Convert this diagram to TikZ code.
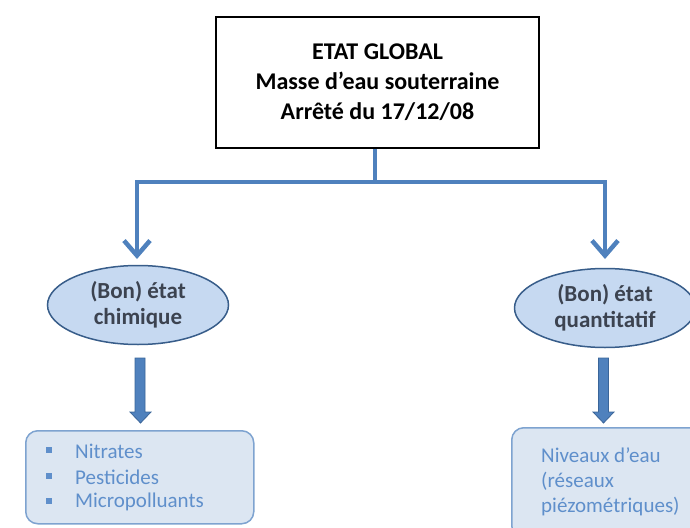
\documentclass[tikz,border=0pt]{standalone}
\usepackage{fontspec}
\setmainfont{Carlito}
\usetikzlibrary{arrows.meta,calc,shapes.geometric}
\definecolor{conn}{HTML}{4F81BD}
\definecolor{blkfill}{HTML}{4F81BD}
\definecolor{blkline}{HTML}{3A6599}
\definecolor{ellfill}{HTML}{C6D9F1}
\definecolor{elldraw}{HTML}{385D8A}
\definecolor{elltext}{HTML}{3C4350}
\definecolor{boxfill}{HTML}{DCE6F2}
\definecolor{boxdraw}{HTML}{7EA3D0}
\definecolor{boxtext}{HTML}{5F8FCB}
\tikzset{
  topbox/.style={draw=black, line width=2pt, fill=white, minimum width=323, minimum height=131, align=center, font=\fontsize{24}{30}\selectfont\bfseries},
  ellnode/.style={ellipse, draw=elldraw, line width=1.5pt, fill=ellfill, minimum width=181, minimum height=79, inner sep=0, align=center, text=elltext, font=\fontsize{23}{26}\selectfont\bfseries},
  listbox/.style={draw=boxdraw, line width=1.5pt, fill=boxfill, rounded corners=12pt},
  listtext/.style={anchor=west, text=boxtext, font=\fontsize{21}{26}\selectfont, inner sep=0},
  conline/.style={draw=conn, line width=4.5pt},
  conarrow/.style={conline, -{Straight Barb[length=15,width=26,line width=4.5pt]}, shorten >=6pt},
  blkarrow/.style={fill=blkfill, draw=blkline, line width=0.8pt},
  bullet/.style={fill=boxtext, minimum size=5.5, inner sep=0}
}
\begin{document}
\begin{tikzpicture}[x=1pt,y=-1pt]
\useasboundingbox (0,0) rectangle (690,527);
\node[topbox] (top) at (377.5,82.5) {ETAT GLOBAL\\Masse d’eau souterraine\\Arrêté du 17/12/08};
\node[ellnode] (chim) at (138,305) {(Bon) état\\chimique};
\node[ellnode] (quant) at (605,308) {(Bon) état\\quantitatif};
\node[listbox, minimum width=228, minimum height=93, anchor=north west] (lbox) at (25,430) {};
\node[listbox, minimum width=190, minimum height=110, anchor=north west] (rbox) at (511,427) {};
% list text
\node[listtext] (n1) at (75,451) {Nitrates};
\node[listtext] (n2) at (75,477) {Pesticides};
\node[listtext] (n3) at (75,502) {Micropolluants};
\node[bullet] (b1) at (49,450) {};
\node[bullet] (b2) at (49,476) {};
\node[bullet] (b3) at (49,501) {};
\node[listtext] (r1) at (541,455) {Niveaux d’eau};
\node[listtext] (r2) at (541,481) {(réseaux};
\node[listtext] (r3) at (541,507) {piézométriques)};
% connectors
\coordinate (j) at (375,182);
\draw[conline] (top.south -| j) -- (j);
\draw[conarrow] (j) -| (137,265);
\draw[conarrow] (j) -| (605,265);
% block arrows
\filldraw[blkarrow] (135,358) -- (145,358) -- (145,412) -- (151,412) -- (140.5,423) -- (130,412) -- (135,412) -- cycle;
\filldraw[blkarrow] (598.5,358) -- (608.5,358) -- (608.5,412) -- (614,412) -- (603.5,423) -- (593,412) -- (598.5,412) -- cycle;
\end{tikzpicture}
\end{document}
